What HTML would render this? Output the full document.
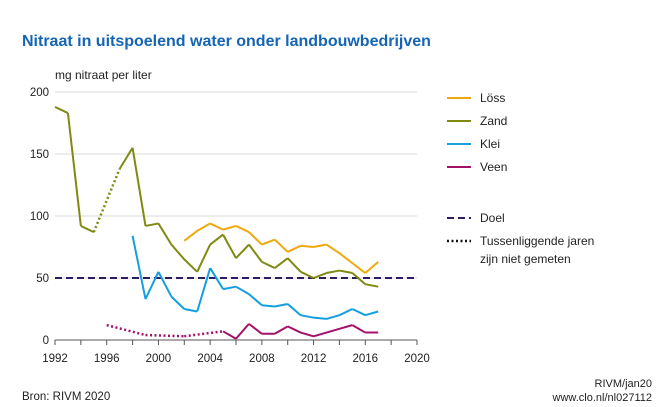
<!DOCTYPE html>
<html><head><meta charset="utf-8">
<style>
body{margin:0;background:#fff;font-family:"Liberation Sans",sans-serif;}
svg{display:block}
text{font-family:"Liberation Sans",sans-serif;}
</style></head>
<body>
<svg id="chart" width="660" height="407" viewBox="0 0 660 407">
<text x="22" y="46" font-size="16" font-weight="bold" fill="#1565b4">Nitraat in uitspoelend water onder landbouwbedrijven</text>
<text x="55" y="79" font-size="12" fill="#222">mg nitraat per liter</text>
<text x="22" y="400" font-size="11.5" fill="#222">Bron: RIVM 2020</text>
<text x="652" y="387" font-size="11" fill="#222" text-anchor="end">RIVM/jan20</text>
<text x="652" y="401" font-size="11" fill="#222" text-anchor="end">www.clo.nl/nl027112</text>
<g id="grid"></g><g id="axes"></g><g id="series"></g><g id="legend"></g>
</svg>
<script>
const years = [1992,1993,1994,1995,1996,1997,1998,1999,2000,2001,2002,2003,2004,2005,2006,2007,2008,2009,2010,2011,2012,2013,2014,2015,2016,2017];
const zand  = [188,183,92,87,null,138,155,92,94,77,65,55,77,85,66,77,63,58,66,55,50,54,56,54,45,43];
const loss  = [null,null,null,null,null,null,null,null,null,null,80,88,94,89,92,87,77,81,71,76,75,77,70,62,54,63];
const klei  = [null,null,null,null,null,null,84,33,55,35,25,23,58,41,43,37,28,27,29,20,18,17,20,25,20,23];
const veen  = [null,null,null,null,12,null,null,4,null,null,3,null,null,7,1,13,5,5,11,6,3,6,9,12,6,6];
const yTicks = [0,50,100,150,200];
const xTicks = [1992,1996,2000,2004,2008,2012,2016,2020];
const doel = 50;

const NS="http://www.w3.org/2000/svg";
const x0=55,x1=417,y0=340,y1=92;
const X=y=>x0+(y-1992)*(x1-x0)/28;
const Y=v=>y0-v*(y0-y1)/200;
function mk(tag,attrs,parent){const e=document.createElementNS(NS,tag);for(const k in attrs)e.setAttribute(k,attrs[k]);parent.appendChild(e);return e;}
const grid=document.getElementById('grid'),axes=document.getElementById('axes'),ser=document.getElementById('series'),leg=document.getElementById('legend');

yTicks.forEach(t=>{
  if(t>0){const l=mk('line',{x1:x0,x2:x1,y1:Y(t),y2:Y(t),stroke:'#d9d9d9','stroke-width':1},grid);
  
  }
  const tx=mk('text',{x:49,y:Y(t)+4,'font-size':11.5,fill:'#222','text-anchor':'end'},axes);tx.textContent=t;
  
  
});
const ax=mk('line',{x1:x0,x2:x1,y1:y0,y2:y0,stroke:'#555','stroke-width':1},axes);


for(let yr=1992;yr<=2020;yr+=2){const tk=mk('line',{x1:X(yr),x2:X(yr),y1:y0,y2:y0+5,stroke:'#555','stroke-width':1},axes);
  
  }
xTicks.forEach(t=>{const tx=mk('text',{x:X(t),y:362,'font-size':11.5,fill:'#222','text-anchor':'middle'},axes);tx.textContent=t;
  
  });

const dl=mk('line',{x1:x0,x2:x1,y1:Y(doel),y2:Y(doel),stroke:'#2e1a5e','stroke-width':2,'stroke-dasharray':'7,4'},ser);



function draw(vals,color,name){
  const pts=[];vals.forEach((v,i)=>{if(v!=null)pts.push([years[i],v]);});
  let solid='',dotted='';
  for(let i=0;i<pts.length-1;i++){
    const a=pts[i],b=pts[i+1];
    const seg=`M${X(a[0])},${Y(a[1])}L${X(b[0])},${Y(b[1])}`;
    if(b[0]-a[0]===1)solid+=seg;else dotted+=seg;
  }
  const p=mk('path',{d:solid,fill:'none',stroke:color,'stroke-width':2,'stroke-linejoin':'round'},ser);
  
  
  if(dotted){const q=mk('path',{d:dotted,fill:'none',stroke:color,'stroke-width':2.5,'stroke-dasharray':'2,2.5'},ser);
  
  }
}
draw(loss,'#f0a80c','loss');
draw(zand,'#7f8a12','zand');
draw(klei,'#139fe0','klei');
draw(veen,'#a3116a','veen');

const items=[['Löss','#f0a80c',98,''],['Zand','#7f8a12',121,''],['Klei','#139fe0',144,''],['Veen','#a3116a',167,''],['Doel','#2e1a5e',218,'7,4'],['Tussenliggende jaren','#111',241,'2,2.5']];
items.forEach(it=>{
  const l=mk('line',{x1:447,x2:471,y1:it[2],y2:it[2],stroke:it[1],'stroke-width':it[3]=='2,2.5'?2.5:2,'stroke-dasharray':it[3]||'none'},leg);
  
  
  const t=mk('text',{x:480,y:it[2]+4,'font-size':12,fill:'#222'},leg);t.textContent=it[0];
  
  
});
const t2=mk('text',{x:480,y:263,'font-size':12,fill:'#222'},leg);t2.textContent='zijn niet gemeten';


</script>
</body></html>
